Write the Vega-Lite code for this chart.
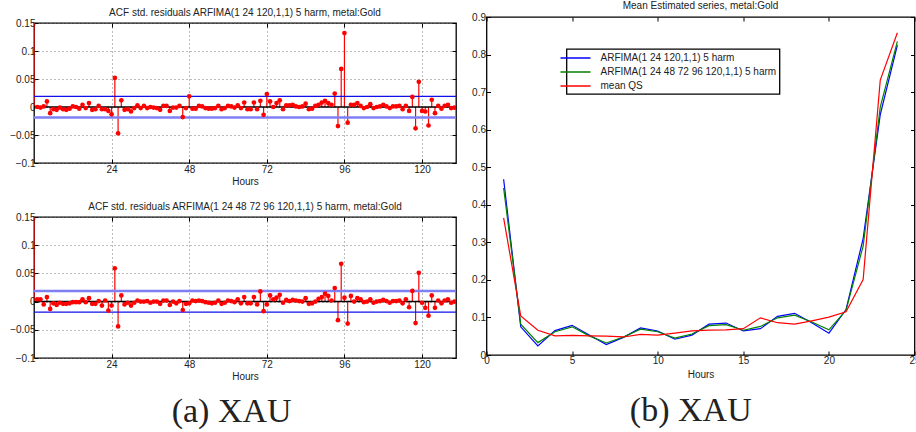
{
 "$schema": "https://vega.github.io/schema/vega-lite/v6.json",
 "padding": {"left": 5, "top": 0, "right": 0, "bottom": 0},
 "config": {
  "font": "Liberation Sans",
  "view": {"stroke": "black", "strokeWidth": 1.3},
  "axis": {"domain": false, "grid": false, "tickColor": "black", "tickSize": -4, "tickWidth": 1, "labelFontSize": 10, "labelColor": "#222", "titleFontSize": 10, "titleFontWeight": "normal", "titleColor": "#222", "labelFont": "Liberation Sans", "titleFont": "Liberation Sans", "labelFlush": false, "labelOverlap": false},
  "title": {"fontSize": 10, "fontWeight": "normal", "color": "#222", "font": "Liberation Sans"},
  "legend": {"strokeWidth": 1.3}
 },
 "datasets": {
  "acf1": [
   {"lag":0,"acf":1},{"lag":1,"acf":0.0},{"lag":2,"acf":-0.001},{"lag":3,"acf":0.001},{"lag":4,"acf":0.010},{"lag":5,"acf":-0.011},{"lag":6,"acf":-0.004},{"lag":7,"acf":-0.005},{"lag":8,"acf":-0.001},{"lag":9,"acf":-0.004},
   {"lag":10,"acf":-0.005},{"lag":11,"acf":-0.003},{"lag":12,"acf":0.001},{"lag":13,"acf":0.0},{"lag":14,"acf":-0.003},{"lag":15,"acf":0.004},{"lag":16,"acf":-0.002},{"lag":17,"acf":0.007},{"lag":18,"acf":-0.005},{"lag":19,"acf":-0.004},
   {"lag":20,"acf":0.002},{"lag":21,"acf":-0.004},{"lag":22,"acf":-0.004},{"lag":23,"acf":-0.007},{"lag":24,"acf":-0.013},{"lag":25,"acf":0.052},{"lag":26,"acf":-0.047},{"lag":27,"acf":0.012},{"lag":28,"acf":-0.005},{"lag":29,"acf":-0.004},
   {"lag":30,"acf":-0.008},{"lag":31,"acf":-0.002},{"lag":32,"acf":0.003},{"lag":33,"acf":-0.002},{"lag":34,"acf":0.002},{"lag":35,"acf":-0.002},{"lag":36,"acf":0.0},{"lag":37,"acf":-0.001},{"lag":38,"acf":-0.002},{"lag":39,"acf":-0.005},
   {"lag":40,"acf":0.002},{"lag":41,"acf":0.002},{"lag":42,"acf":-0.007},{"lag":43,"acf":-0.001},{"lag":44,"acf":-0.001},{"lag":45,"acf":0.002},{"lag":46,"acf":-0.018},{"lag":47,"acf":-0.002},{"lag":48,"acf":0.019},{"lag":49,"acf":-0.003},
   {"lag":50,"acf":-0.003},{"lag":51,"acf":0.002},{"lag":52,"acf":0.001},{"lag":53,"acf":-0.002},{"lag":54,"acf":-0.003},{"lag":55,"acf":-0.003},{"lag":56,"acf":-0.002},{"lag":57,"acf":0.002},{"lag":58,"acf":-0.004},{"lag":59,"acf":-0.002},
   {"lag":60,"acf":0.002},{"lag":61,"acf":0.001},{"lag":62,"acf":-0.001},{"lag":63,"acf":0.003},{"lag":64,"acf":-0.002},{"lag":65,"acf":0.008},{"lag":66,"acf":-0.004},{"lag":67,"acf":-0.004},{"lag":68,"acf":0.008},{"lag":69,"acf":-0.004},
   {"lag":70,"acf":0.011},{"lag":71,"acf":-0.014},{"lag":72,"acf":0.023},{"lag":73,"acf":0.010},{"lag":74,"acf":0.0},{"lag":75,"acf":0.007},{"lag":76,"acf":0.012},{"lag":77,"acf":-0.004},{"lag":78,"acf":0.003},{"lag":79,"acf":0.003},
   {"lag":80,"acf":0.004},{"lag":81,"acf":0.001},{"lag":82,"acf":0.0},{"lag":83,"acf":0.001},{"lag":84,"acf":0.006},{"lag":85,"acf":-0.004},{"lag":86,"acf":-0.003},{"lag":87,"acf":0.002},{"lag":88,"acf":0.004},{"lag":89,"acf":0.008},
   {"lag":90,"acf":0.011},{"lag":91,"acf":0.007},{"lag":92,"acf":0.004},{"lag":93,"acf":0.024},{"lag":94,"acf":-0.034},{"lag":95,"acf":0.068},{"lag":96,"acf":0.132},{"lag":97,"acf":-0.028},{"lag":98,"acf":0.004},{"lag":99,"acf":0.004},
   {"lag":100,"acf":0.007},{"lag":101,"acf":0.002},{"lag":102,"acf":-0.002},{"lag":103,"acf":0.0},{"lag":104,"acf":0.005},{"lag":105,"acf":-0.002},{"lag":106,"acf":0.0},{"lag":107,"acf":0.001},{"lag":108,"acf":0.004},{"lag":109,"acf":0.001},
   {"lag":110,"acf":-0.002},{"lag":111,"acf":0.001},{"lag":112,"acf":0.001},{"lag":113,"acf":0.002},{"lag":114,"acf":-0.004},{"lag":115,"acf":0.002},{"lag":116,"acf":-0.007},{"lag":117,"acf":0.018},{"lag":118,"acf":-0.038},{"lag":119,"acf":0.045},
   {"lag":120,"acf":-0.007},{"lag":121,"acf":-0.008},{"lag":122,"acf":-0.033},{"lag":123,"acf":0.013},{"lag":124,"acf":-0.011},{"lag":125,"acf":0.002},{"lag":126,"acf":-0.003},{"lag":127,"acf":0.002},{"lag":128,"acf":0.004},{"lag":129,"acf":-0.002},
   {"lag":130,"acf":-0.001}
  ],
  "acf2": [
   {"lag":0,"acf":1},{"lag":1,"acf":0.004},{"lag":2,"acf":0.004},{"lag":3,"acf":-0.005},{"lag":4,"acf":0.008},{"lag":5,"acf":-0.013},{"lag":6,"acf":-0.003},{"lag":7,"acf":-0.006},{"lag":8,"acf":-0.002},{"lag":9,"acf":-0.004},
   {"lag":10,"acf":-0.004},{"lag":11,"acf":-0.003},{"lag":12,"acf":-0.001},{"lag":13,"acf":-0.001},{"lag":14,"acf":-0.001},{"lag":15,"acf":0.004},{"lag":16,"acf":-0.001},{"lag":17,"acf":0.006},{"lag":18,"acf":-0.004},{"lag":19,"acf":-0.004},
   {"lag":20,"acf":0.001},{"lag":21,"acf":-0.007},{"lag":22,"acf":0.002},{"lag":23,"acf":-0.016},{"lag":24,"acf":-0.007},{"lag":25,"acf":0.059},{"lag":26,"acf":-0.044},{"lag":27,"acf":0.011},{"lag":28,"acf":-0.005},{"lag":29,"acf":-0.002},
   {"lag":30,"acf":-0.007},{"lag":31,"acf":-0.002},{"lag":32,"acf":0.002},{"lag":33,"acf":0.0},{"lag":34,"acf":0.0},{"lag":35,"acf":0.001},{"lag":36,"acf":-0.002},{"lag":37,"acf":0.0},{"lag":38,"acf":0.0},{"lag":39,"acf":-0.004},
   {"lag":40,"acf":0.002},{"lag":41,"acf":0.002},{"lag":42,"acf":-0.006},{"lag":43,"acf":0.0},{"lag":44,"acf":-0.003},{"lag":45,"acf":0.001},{"lag":46,"acf":-0.015},{"lag":47,"acf":-0.004},{"lag":48,"acf":-0.003},{"lag":49,"acf":0.002},
   {"lag":50,"acf":0.001},{"lag":51,"acf":0.002},{"lag":52,"acf":0.001},{"lag":53,"acf":-0.001},{"lag":54,"acf":-0.002},{"lag":55,"acf":-0.003},{"lag":56,"acf":-0.002},{"lag":57,"acf":0.002},{"lag":58,"acf":-0.004},{"lag":59,"acf":-0.002},
   {"lag":60,"acf":0.002},{"lag":61,"acf":0.001},{"lag":62,"acf":-0.001},{"lag":63,"acf":0.004},{"lag":64,"acf":-0.003},{"lag":65,"acf":0.008},{"lag":66,"acf":-0.003},{"lag":67,"acf":-0.003},{"lag":68,"acf":0.008},{"lag":69,"acf":-0.005},
   {"lag":70,"acf":0.018},{"lag":71,"acf":-0.017},{"lag":72,"acf":-0.005},{"lag":73,"acf":0.011},{"lag":74,"acf":0.004},{"lag":75,"acf":0.007},{"lag":76,"acf":0.012},{"lag":77,"acf":-0.002},{"lag":78,"acf":0.003},{"lag":79,"acf":0.001},
   {"lag":80,"acf":0.003},{"lag":81,"acf":0.002},{"lag":82,"acf":0.001},{"lag":83,"acf":0.0},{"lag":84,"acf":0.006},{"lag":85,"acf":-0.004},{"lag":86,"acf":-0.003},{"lag":87,"acf":0.0},{"lag":88,"acf":0.005},{"lag":89,"acf":0.008},
   {"lag":90,"acf":0.014},{"lag":91,"acf":0.010},{"lag":92,"acf":0.002},{"lag":93,"acf":0.024},{"lag":94,"acf":-0.033},{"lag":95,"acf":0.067},{"lag":96,"acf":0.007},{"lag":97,"acf":-0.039},{"lag":98,"acf":0.010},{"lag":99,"acf":0.0},
   {"lag":100,"acf":0.006},{"lag":101,"acf":0.004},{"lag":102,"acf":-0.001},{"lag":103,"acf":0.0},{"lag":104,"acf":0.004},{"lag":105,"acf":-0.002},{"lag":106,"acf":0.0},{"lag":107,"acf":0.001},{"lag":108,"acf":0.003},{"lag":109,"acf":0.001},
   {"lag":110,"acf":-0.002},{"lag":111,"acf":0.001},{"lag":112,"acf":0.001},{"lag":113,"acf":0.002},{"lag":114,"acf":-0.003},{"lag":115,"acf":0.004},{"lag":116,"acf":-0.010},{"lag":117,"acf":0.019},{"lag":118,"acf":-0.038},{"lag":119,"acf":0.051},
   {"lag":120,"acf":-0.002},{"lag":121,"acf":-0.011},{"lag":122,"acf":-0.025},{"lag":123,"acf":0.011},{"lag":124,"acf":-0.011},{"lag":125,"acf":0.002},{"lag":126,"acf":-0.003},{"lag":127,"acf":0.002},{"lag":128,"acf":0.004},{"lag":129,"acf":-0.002},
   {"lag":130,"acf":0.0}
  ],
  "mean": [
   {"hour":1,"s":"ARFIMA(1 24 120,1,1) 5 harm","v":0.468},{"hour":2,"s":"ARFIMA(1 24 120,1,1) 5 harm","v":0.075},{"hour":3,"s":"ARFIMA(1 24 120,1,1) 5 harm","v":0.024},{"hour":4,"s":"ARFIMA(1 24 120,1,1) 5 harm","v":0.065},{"hour":5,"s":"ARFIMA(1 24 120,1,1) 5 harm","v":0.079},{"hour":6,"s":"ARFIMA(1 24 120,1,1) 5 harm","v":0.053},{"hour":7,"s":"ARFIMA(1 24 120,1,1) 5 harm","v":0.028},{"hour":8,"s":"ARFIMA(1 24 120,1,1) 5 harm","v":0.047},{"hour":9,"s":"ARFIMA(1 24 120,1,1) 5 harm","v":0.072},{"hour":10,"s":"ARFIMA(1 24 120,1,1) 5 harm","v":0.064},{"hour":11,"s":"ARFIMA(1 24 120,1,1) 5 harm","v":0.042},{"hour":12,"s":"ARFIMA(1 24 120,1,1) 5 harm","v":0.053},
   {"hour":13,"s":"ARFIMA(1 24 120,1,1) 5 harm","v":0.082},{"hour":14,"s":"ARFIMA(1 24 120,1,1) 5 harm","v":0.085},{"hour":15,"s":"ARFIMA(1 24 120,1,1) 5 harm","v":0.064},{"hour":16,"s":"ARFIMA(1 24 120,1,1) 5 harm","v":0.070},{"hour":17,"s":"ARFIMA(1 24 120,1,1) 5 harm","v":0.103},{"hour":18,"s":"ARFIMA(1 24 120,1,1) 5 harm","v":0.111},{"hour":19,"s":"ARFIMA(1 24 120,1,1) 5 harm","v":0.086},{"hour":20,"s":"ARFIMA(1 24 120,1,1) 5 harm","v":0.058},{"hour":21,"s":"ARFIMA(1 24 120,1,1) 5 harm","v":0.121},{"hour":22,"s":"ARFIMA(1 24 120,1,1) 5 harm","v":0.310},{"hour":23,"s":"ARFIMA(1 24 120,1,1) 5 harm","v":0.640},{"hour":24,"s":"ARFIMA(1 24 120,1,1) 5 harm","v":0.825},
   {"hour":1,"s":"ARFIMA(1 24 48 72 96 120,1,1) 5 harm","v":0.445},{"hour":2,"s":"ARFIMA(1 24 48 72 96 120,1,1) 5 harm","v":0.082},{"hour":3,"s":"ARFIMA(1 24 48 72 96 120,1,1) 5 harm","v":0.033},{"hour":4,"s":"ARFIMA(1 24 48 72 96 120,1,1) 5 harm","v":0.062},{"hour":5,"s":"ARFIMA(1 24 48 72 96 120,1,1) 5 harm","v":0.075},{"hour":6,"s":"ARFIMA(1 24 48 72 96 120,1,1) 5 harm","v":0.051},{"hour":7,"s":"ARFIMA(1 24 48 72 96 120,1,1) 5 harm","v":0.032},{"hour":8,"s":"ARFIMA(1 24 48 72 96 120,1,1) 5 harm","v":0.048},{"hour":9,"s":"ARFIMA(1 24 48 72 96 120,1,1) 5 harm","v":0.069},{"hour":10,"s":"ARFIMA(1 24 48 72 96 120,1,1) 5 harm","v":0.062},{"hour":11,"s":"ARFIMA(1 24 48 72 96 120,1,1) 5 harm","v":0.045},{"hour":12,"s":"ARFIMA(1 24 48 72 96 120,1,1) 5 harm","v":0.056},
   {"hour":13,"s":"ARFIMA(1 24 48 72 96 120,1,1) 5 harm","v":0.078},{"hour":14,"s":"ARFIMA(1 24 48 72 96 120,1,1) 5 harm","v":0.081},{"hour":15,"s":"ARFIMA(1 24 48 72 96 120,1,1) 5 harm","v":0.066},{"hour":16,"s":"ARFIMA(1 24 48 72 96 120,1,1) 5 harm","v":0.076},{"hour":17,"s":"ARFIMA(1 24 48 72 96 120,1,1) 5 harm","v":0.099},{"hour":18,"s":"ARFIMA(1 24 48 72 96 120,1,1) 5 harm","v":0.106},{"hour":19,"s":"ARFIMA(1 24 48 72 96 120,1,1) 5 harm","v":0.088},{"hour":20,"s":"ARFIMA(1 24 48 72 96 120,1,1) 5 harm","v":0.067},{"hour":21,"s":"ARFIMA(1 24 48 72 96 120,1,1) 5 harm","v":0.119},{"hour":22,"s":"ARFIMA(1 24 48 72 96 120,1,1) 5 harm","v":0.290},{"hour":23,"s":"ARFIMA(1 24 48 72 96 120,1,1) 5 harm","v":0.660},{"hour":24,"s":"ARFIMA(1 24 48 72 96 120,1,1) 5 harm","v":0.835},
   {"hour":1,"s":"mean QS","v":0.365},{"hour":2,"s":"mean QS","v":0.104},{"hour":3,"s":"mean QS","v":0.066},{"hour":4,"s":"mean QS","v":0.051},{"hour":5,"s":"mean QS","v":0.052},{"hour":6,"s":"mean QS","v":0.051},{"hour":7,"s":"mean QS","v":0.050},{"hour":8,"s":"mean QS","v":0.048},{"hour":9,"s":"mean QS","v":0.055},{"hour":10,"s":"mean QS","v":0.053},{"hour":11,"s":"mean QS","v":0.058},{"hour":12,"s":"mean QS","v":0.064},
   {"hour":13,"s":"mean QS","v":0.066},{"hour":14,"s":"mean QS","v":0.067},{"hour":15,"s":"mean QS","v":0.070},{"hour":16,"s":"mean QS","v":0.099},{"hour":17,"s":"mean QS","v":0.086},{"hour":18,"s":"mean QS","v":0.082},{"hour":19,"s":"mean QS","v":0.091},{"hour":20,"s":"mean QS","v":0.101},{"hour":21,"s":"mean QS","v":0.115},{"hour":22,"s":"mean QS","v":0.201},{"hour":23,"s":"mean QS","v":0.732},{"hour":24,"s":"mean QS","v":0.858}
  ]
 },
 "spacing": 2.5,
 "hconcat": [
  {
   "spacing": -1,
   "vconcat": [
    {
     "title": {"text": "ACF std. residuals ARFIMA(1 24 120,1,1) 5 harm, metal:Gold", "offset": -1},
     "width": 422, "height": 1,
     "view": {"stroke": null},
     "data": {"values": []},
     "mark": "point"
    },
    {
     "title": {"text": "(a) XAU", "orient": "bottom", "frame": "bounds", "anchor": "middle", "font": "Liberation Serif", "fontSize": 34, "fontWeight": "normal", "color": "#222", "offset": 13},
     "spacing": 14,
     "vconcat": [
      {
       "width": 422, "height": 140,
       "data": {"name": "acf1"},
       "layer": [
        {"layer": [
         {"mark": {"type": "rule", "color": "#ff0000", "strokeWidth": 1.2, "clip": true},
          "encoding": {
           "x": {"field": "lag", "type": "quantitative", "scale": {"domain": [0, 130.5], "nice": false, "zero": false},
                 "axis": {"values": [24, 48, 72, 96, 120], "title": "Hours", "grid": true, "gridDash": [1, 3], "gridColor": "#777", "labelPadding": 5, "titlePadding": 2}},
           "y": {"field": "acf", "type": "quantitative", "scale": {"domain": [-0.1, 0.15], "nice": false},
                 "axis": {"values": [-0.1, -0.05, 0, 0.05, 0.1, 0.15], "format": ".3~g", "title": null, "grid": true, "gridDash": [1, 3], "gridColor": "#777", "labelPadding": 3, "minExtent": 28, "maxExtent": 28}},
           "y2": {"datum": 0}
          }},
         {"data": {"values": [{}]}, "mark": {"type": "rule", "color": "black", "strokeWidth": 1.5},
          "encoding": {"y": {"datum": 0, "type": "quantitative", "axis": {"values": [-0.1, -0.05, 0, 0.05, 0.1, 0.15], "format": ".3~g", "title": null, "grid": true, "gridDash": [1, 3], "gridColor": "#777", "labelPadding": 3, "minExtent": 28, "maxExtent": 28}}}},
         {"data": {"values": [{}]}, "mark": {"type": "rule", "color": "#1010e8", "strokeWidth": 1.3},
          "encoding": {"y": {"datum": 0.0188, "type": "quantitative", "axis": {"values": [-0.1, -0.05, 0, 0.05, 0.1, 0.15], "format": ".3~g", "title": null, "grid": true, "gridDash": [1, 3], "gridColor": "#777", "labelPadding": 3, "minExtent": 28, "maxExtent": 28}}}},
         {"data": {"values": [{}]}, "mark": {"type": "rule", "color": "#7f7ff5", "strokeWidth": 2.5},
          "encoding": {"y": {"datum": -0.0188, "type": "quantitative", "axis": {"values": [-0.1, -0.05, 0, 0.05, 0.1, 0.15], "format": ".3~g", "title": null, "grid": true, "gridDash": [1, 3], "gridColor": "#777", "labelPadding": 3, "minExtent": 28, "maxExtent": 28}}}},
         {"mark": {"type": "point", "filled": true, "color": "#ff0000", "size": 22, "opacity": 1, "clip": true},
          "encoding": {
           "x": {"field": "lag", "type": "quantitative", "axis": {"values": [24, 48, 72, 96, 120], "title": "Hours", "grid": true, "gridDash": [1, 3], "gridColor": "#777", "labelPadding": 5, "titlePadding": 2}},
           "y": {"field": "acf", "type": "quantitative", "axis": {"values": [-0.1, -0.05, 0, 0.05, 0.1, 0.15], "format": ".3~g", "title": null, "grid": true, "gridDash": [1, 3], "gridColor": "#777", "labelPadding": 3, "minExtent": 28, "maxExtent": 28}}}}
        ]},
        {"mark": {"type": "point", "opacity": 0, "clip": true},
         "encoding": {
          "x": {"field": "lag", "type": "quantitative", "axis": {"orient": "top", "values": [24, 48, 72, 96, 120], "labels": false, "title": null, "grid": false}},
          "y": {"field": "acf", "type": "quantitative", "axis": {"orient": "right", "values": [-0.1, -0.05, 0, 0.05, 0.1, 0.15], "labels": false, "title": null, "grid": false}}
         }}
       ],
       "resolve": {"axis": {"x": "independent", "y": "independent"}}
      },
      {
       "title": {"text": "ACF std. residuals ARFIMA(1 24 48 72 96 120,1,1)  5 harm, metal:Gold", "offset": 0},
       "width": 422, "height": 141,
       "data": {"name": "acf2"},
       "layer": [
        {"layer": [
         {"mark": {"type": "rule", "color": "#ff0000", "strokeWidth": 1.2, "clip": true},
          "encoding": {
           "x": {"field": "lag", "type": "quantitative", "scale": {"domain": [0, 130.5], "nice": false, "zero": false},
                 "axis": {"values": [24, 48, 72, 96, 120], "title": "Hours", "grid": true, "gridDash": [1, 3], "gridColor": "#777", "labelPadding": 5, "titlePadding": 2}},
           "y": {"field": "acf", "type": "quantitative", "scale": {"domain": [-0.1, 0.15], "nice": false},
                 "axis": {"values": [-0.1, -0.05, 0, 0.05, 0.1, 0.15], "format": ".3~g", "title": null, "grid": true, "gridDash": [1, 3], "gridColor": "#777", "labelPadding": 3, "minExtent": 28, "maxExtent": 28}},
           "y2": {"datum": 0}
          }},
         {"data": {"values": [{}]}, "mark": {"type": "rule", "color": "black", "strokeWidth": 1.5},
          "encoding": {"y": {"datum": 0, "type": "quantitative", "axis": {"values": [-0.1, -0.05, 0, 0.05, 0.1, 0.15], "format": ".3~g", "title": null, "grid": true, "gridDash": [1, 3], "gridColor": "#777", "labelPadding": 3, "minExtent": 28, "maxExtent": 28}}}},
         {"data": {"values": [{}]}, "mark": {"type": "rule", "color": "#7f7ff5", "strokeWidth": 2.5},
          "encoding": {"y": {"datum": 0.0188, "type": "quantitative", "axis": {"values": [-0.1, -0.05, 0, 0.05, 0.1, 0.15], "format": ".3~g", "title": null, "grid": true, "gridDash": [1, 3], "gridColor": "#777", "labelPadding": 3, "minExtent": 28, "maxExtent": 28}}}},
         {"data": {"values": [{}]}, "mark": {"type": "rule", "color": "#1010e8", "strokeWidth": 1.3},
          "encoding": {"y": {"datum": -0.0188, "type": "quantitative", "axis": {"values": [-0.1, -0.05, 0, 0.05, 0.1, 0.15], "format": ".3~g", "title": null, "grid": true, "gridDash": [1, 3], "gridColor": "#777", "labelPadding": 3, "minExtent": 28, "maxExtent": 28}}}},
         {"mark": {"type": "point", "filled": true, "color": "#ff0000", "size": 22, "opacity": 1, "clip": true},
          "encoding": {
           "x": {"field": "lag", "type": "quantitative", "axis": {"values": [24, 48, 72, 96, 120], "title": "Hours", "grid": true, "gridDash": [1, 3], "gridColor": "#777", "labelPadding": 5, "titlePadding": 2}},
           "y": {"field": "acf", "type": "quantitative", "axis": {"values": [-0.1, -0.05, 0, 0.05, 0.1, 0.15], "format": ".3~g", "title": null, "grid": true, "gridDash": [1, 3], "gridColor": "#777", "labelPadding": 3, "minExtent": 28, "maxExtent": 28}}}}
        ]},
        {"mark": {"type": "point", "opacity": 0, "clip": true},
         "encoding": {
          "x": {"field": "lag", "type": "quantitative", "axis": {"orient": "top", "values": [24, 48, 72, 96, 120], "labels": false, "title": null, "grid": false}},
          "y": {"field": "acf", "type": "quantitative", "axis": {"orient": "right", "values": [-0.1, -0.05, 0, 0.05, 0.1, 0.15], "labels": false, "title": null, "grid": false}}
         }}
       ],
       "resolve": {"axis": {"x": "independent", "y": "independent"}}
      }
     ]
    }
   ]
  },
  {
   "title": {"text": "(b) XAU", "orient": "bottom", "frame": "bounds", "anchor": "middle", "font": "Liberation Serif", "fontSize": 34, "fontWeight": "normal", "color": "#222", "offset": 14.5},
   "vconcat": [
    {
     "title": {"text": "Mean Estimated series, metal:Gold", "offset": 1},
     "width": 428, "height": 338,
     "data": {"name": "mean"},
     "layer": [
      {"mark": {"type": "line", "strokeWidth": 1.2},
       "encoding": {
        "x": {"field": "hour", "type": "quantitative", "scale": {"domain": [0, 25], "nice": false},
              "axis": {"values": [0, 5, 10, 15, 20, 25], "title": "Hours", "grid": false, "labelPadding": 4, "titlePadding": 4}},
        "y": {"field": "v", "type": "quantitative", "scale": {"domain": [0, 0.9], "nice": false},
              "axis": {"values": [0, 0.1, 0.2, 0.3, 0.4, 0.5, 0.6, 0.7, 0.8, 0.9], "format": ".1~f", "title": null, "grid": false, "labelPadding": 5, "minExtent": 25, "maxExtent": 25}},
        "color": {"field": "s", "type": "nominal",
                  "scale": {"domain": ["ARFIMA(1 24 120,1,1) 5 harm", "ARFIMA(1 24 48 72 96 120,1,1) 5 harm", "mean QS"], "range": ["#0000ff", "#008000", "#ff0000"]},
                  "legend": {"orient": "none", "legendX": 532.5, "legendY": 32, "title": null, "strokeColor": "black", "fillColor": "white", "padding": 3, "symbolType": "M-3,0H3", "symbolSize": 100, "symbolStrokeWidth": 1.5, "labelFontSize": 10, "labelFont": "Liberation Sans", "labelColor": "#222", "labelLimit": 400, "rowPadding": 3, "labelOffset": 19, "cornerRadius": 0}}
       }},
      {"mark": {"type": "line", "opacity": 0},
       "encoding": {
        "x": {"field": "hour", "type": "quantitative", "axis": {"orient": "top", "values": [0, 5, 10, 15, 20, 25], "labels": false, "title": null, "grid": false}},
        "y": {"field": "v", "type": "quantitative", "axis": {"orient": "right", "values": [0, 0.1, 0.2, 0.3, 0.4, 0.5, 0.6, 0.7, 0.8, 0.9], "labels": false, "title": null, "grid": false}},
        "detail": {"field": "s", "type": "nominal"}
       }}
     ],
     "resolve": {"axis": {"x": "independent", "y": "independent"}}
    }
   ]
  }
 ]
}
